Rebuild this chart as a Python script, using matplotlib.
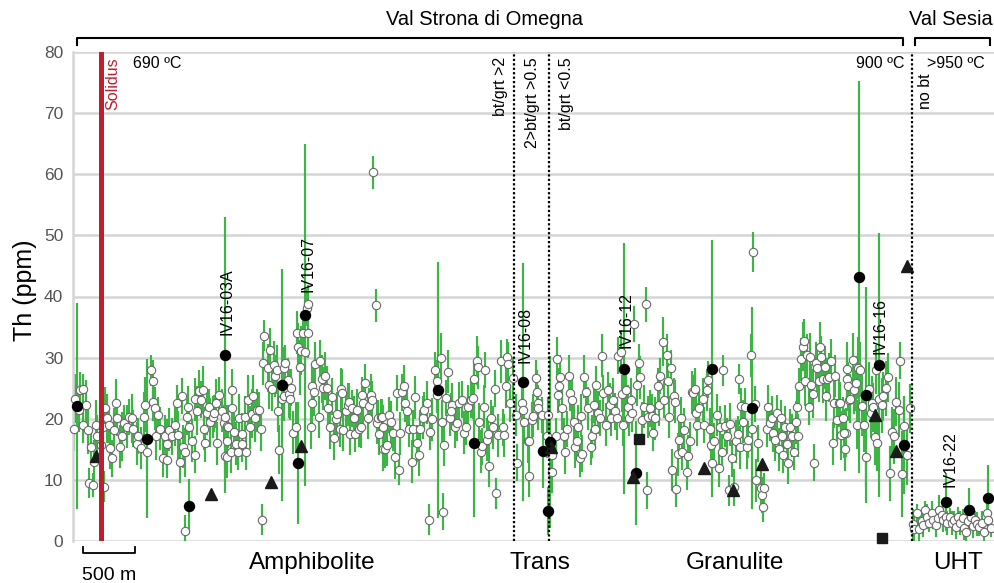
import matplotlib
matplotlib.use("Agg")
import matplotlib.pyplot as plt
import numpy as np

plt.rcParams['font.family'] = ['Liberation Sans', 'DejaVu Sans']

# ---------------- data (position along section in arbitrary units; 52 units = 500 m) ----------------
amph_x = [74, 75, 80, 83, 86, 79, 83, 88, 91, 89, 93, 94, 96, 97, 101, 103, 104, 105, 107, 109,
          110, 112, 114, 116, 117, 120, 122, 124, 127, 129, 132, 133, 137, 138, 141, 144, 145, 147, 151, 153,
          153, 155, 158, 156, 160, 163, 165, 167, 167, 169, 172, 175, 177, 178, 180, 182, 183, 185, 187, 188,
          189, 185, 192, 195, 195, 197, 199, 201, 203, 204, 205, 207, 209, 210, 213, 214, 216, 217, 219, 222,
          224, 225, 227, 225, 227,
          232, 232, 228, 227, 231, 234, 236, 238, 239, 242, 242, 245, 246, 248, 250, 252, 253, 255, 257, 259,
          261, 262, 264, 263, 268, 270, 269, 272, 274, 275, 277, 278, 279, 282, 284, 284, 285, 288, 289, 290,
          291, 293, 296, 297, 298, 300, 301, 303, 305, 307, 308, 308, 311, 312, 312, 314, 315, 320, 319, 322,
          323, 325, 327, 328, 330, 332, 334, 336, 337, 340, 341, 342, 343, 346, 348, 349, 350, 352, 354, 355,
          357, 359, 361, 362, 363, 365, 368, 369, 371, 372, 376, 373, 377, 378, 379, 381, 383,
          382, 383, 385, 387, 389, 391, 393, 395, 397, 399, 400, 402, 404, 405, 407, 409, 412, 413, 415, 417,
          419, 420, 423, 424, 427, 429, 430, 432, 435, 437, 437, 441, 442, 443, 444, 446, 448, 450, 452, 451,
          455, 457, 459, 462, 464, 466, 468, 471, 473, 474, 477, 478, 479, 481, 482, 484, 485, 487, 488, 489,
          491, 493, 495, 496, 498, 501, 503, 504, 506, 507, 508, 510, 513]
amph_th = [18.3, 23.3, 24.7, 24.8, 22.3, 21.4, 19.0, 18.2, 15.4, 9.5, 9.2, 13.0, 19.0, 17.1, 15.7, 18.7, 8.9, 21.7, 20.1, 19.0,
           15.2, 13.5, 18.2, 22.5, 20.2, 15.4, 17.1, 19.3, 18.7, 20.3, 20.1, 18.4, 15.9, 17.2, 15.2, 20.3, 22.3, 14.6, 27.9, 26.1,
           22.7, 21.7, 20.6, 17.2, 18.4, 13.5, 17.1, 13.3, 15.9, 18.2, 17.1, 19.0, 22.5, 17.3, 13.0, 23.7, 15.4, 14.5, 20.3, 21.9,
           18.7, 1.7, 16.4, 14.1, 23.2, 21.3, 24.5, 23.1, 24.7, 18.4, 16.0, 20.9, 21.9, 19.4, 20.3, 20.9, 22.5, 16.0, 23.9, 21.3,
           19.3, 20.3, 18.8, 13.9, 13.8,
           24.7, 21.7, 18.7, 16.3, 14.6, 17.9, 15.9, 14.6, 20.1, 17.5, 15.9, 20.3, 14.6, 23.1, 18.6, 20.8, 23.7, 20.2, 21.4, 21.4,
           18.3, 3.5, 33.6, 29.1, 28.3, 31.3, 25.6, 24.8, 28.8, 27.0, 28.0, 21.3, 14.9, 23.2, 23.7, 28.3, 29.1, 26.4, 24.1, 23.3,
           25.1, 17.7, 18.7, 34.1, 31.7, 28.4, 31.1, 34.1, 31.0, 38.2, 38.8, 34.0, 18.6, 22.6, 25.4, 24.4, 29.0, 29.4, 20.3, 26.5,
           25.0, 27.0, 25.1, 21.7, 18.6, 23.6, 16.8, 19.9, 20.8, 18.4, 24.8, 24.2, 18.2, 21.2, 22.3, 22.8, 17.5, 21.7, 20.2, 17.5,
           21.4, 18.3, 18.7, 23.9, 22.6, 25.9, 20.2, 22.1, 23.9, 23.1, 38.6, 60.3, 19.3, 20.1, 17.5, 20.3, 15.0,
           20.3, 18.7, 15.0, 15.7, 20.6, 19.4, 17.7, 13.7, 24.2, 11.6, 17.6, 24.3, 25.3, 22.5, 21.2, 18.4, 13.0, 18.4, 23.5, 16.0,
           14.1, 18.4, 20.2, 21.4, 22.6, 3.5, 17.9, 19.9, 28.0, 26.1, 23.9, 30.0, 19.5, 4.8, 15.7, 23.4, 27.7, 20.1, 22.3, 21.2,
           18.7, 19.3, 22.5, 23.1, 17.7, 18.7, 22.0, 23.1, 23.4, 26.5, 29.5, 28.4, 19.5, 14.6, 15.5, 22.0, 28.0, 16.6, 17.5, 12.3,
           20.1, 18.6, 24.9, 7.8, 17.3, 29.4, 18.6, 17.3, 25.3, 30.1, 29.0, 22.5, 26.6]
amph_err = [3.5, 4, 3, 2.5, 4, 3.5, 3, 4, 3, 2.5, 2, 3.5, 4, 3.5, 4, 3, 2.5, 3.5, 4, 3,
            3.5, 3, 3.5, 4, 3, 3.5, 4, 3, 3.5, 3, 4, 3, 3.5, 3, 3.5, 4, 4.5, 3, 2.5, 3.5,
            3, 3.5, 3, 4, 3.5, 3, 3.5, 3, 4, 3.5, 3, 3.5, 3, 4, 3.5, 3, 3.5, 4, 3, 3.5,
            3, 2.5, 3.5, 3, 3.5, 4, 3.5, 3, 4, 3.5, 3, 3.5, 3, 4, 3.5, 3, 4, 3.5, 3, 3.5,
            3, 4, 3.5, 3, 3.5,
            3.5, 3, 3.5, 3, 3.5, 3, 3.5, 3, 4, 3.5, 3, 3.5, 3, 4, 3.5, 4, 3.5, 4, 3.5, 3,
            3.5, 2.5, 2.5, 3.5, 4, 3.5, 4, 3.5, 4, 3.5, 4, 3.5, 4, 3.5, 4, 3.5, 3, 3.5, 4, 3.5,
            3, 3.5, 4, 3.5, 4, 4.5, 4, 3.5, 4, 3, 3, 4, 3.5, 4, 3.5, 4, 3.5, 3.5, 3.5, 4,
            3.5, 4, 3.5, 3, 3.5, 3, 3.5, 3, 3.5, 3, 3.5, 4, 3.5, 3, 3.5, 3, 3.5, 3, 3.5, 3,
            3.5, 3, 3.5, 3, 3.5, 3, 3.5, 3, 3.5, 3, 2.7, 2.7, 3.5, 3, 3.5, 3, 3.5,
            3, 3.5, 3, 3.5, 3, 3.5, 3, 3.5, 3, 2.5, 3.5, 3, 3.5, 3, 3.5, 3, 3.5, 3, 3.5, 3,
            3.5, 3, 3.5, 3, 3.5, 2.5, 3, 3.5, 3, 3.5, 3, 4, 3.5, 3, 3.5, 3, 3.5, 3, 3.5, 3,
            3.5, 3, 3.5, 3, 3.5, 3, 3.5, 3, 3.5, 3, 4, 3.5, 3, 3.5, 3, 3.5, 3, 3.5, 3, 3.5,
            3, 3.5, 3, 2.5, 3.5, 3.5, 3, 3.5, 3.5, 3, 3.5, 3, 3.5]

trans_x = [516, 517, 522, 523, 524, 528, 529, 529, 532, 533, 536, 537, 538, 538, 542, 547, 548]
trans_th = [20.6, 12.8, 22.6, 21.4, 19.4, 16.3, 16.4, 10.7, 19.8, 20.5, 26.6, 24.4, 22.5, 21.7, 20.6, 17.1, 20.6]
trans_err = [3.5, 3, 4, 3.5, 3, 3.5, 3, 3.5, 3, 3.5, 3, 3.5, 3, 3.5, 3, 3.5, 3]

gran_x = [552, 552, 556, 557, 559, 560, 558, 562, 564, 565, 567, 569, 570, 572, 574, 575, 577, 578, 580, 581,
          582, 584, 586, 588, 591, 592, 594, 595, 596, 598, 600, 602, 603, 606, 608, 610, 611, 613, 615, 617,
          618, 621, 622, 623, 626, 628, 629, 631, 632, 634, 637, 639, 640, 642, 644, 646, 647, 648, 650, 652,
          653, 655, 658, 659, 660, 663, 664, 667, 668, 669, 671, 672, 674, 675, 676, 678, 679, 681, 682, 684,
          687, 688, 690, 692, 693, 695, 696, 697, 699, 703, 704, 707, 708, 710, 711, 712, 714, 717, 719, 720,
          722, 723, 725, 727, 729, 730, 732, 734, 736, 738, 739, 740, 741, 743, 745, 747, 748, 751, 752, 753,
          755, 756, 758, 761, 762, 763, 764, 767, 768, 770, 772, 773, 775, 777, 779, 781, 782, 783, 785, 787,
          788, 790, 792, 794, 796, 797, 798, 799, 801, 803, 804, 805, 807, 809, 810, 811, 813, 814, 816, 817,
          819, 820, 821, 823, 825, 826, 827, 829, 831, 833, 834, 835, 837, 839, 840, 841, 843, 845, 846, 847,
          848, 849, 844, 847, 850, 853, 854, 856, 857, 858, 860, 862, 864, 866, 869, 871, 872, 873, 875, 876,
          877, 879, 882, 883, 886, 888, 890, 892, 894, 896, 899, 900, 902, 904, 907, 910]
gran_th = [14.1, 11.3, 17.1, 29.8, 25.3, 26.9, 23.9, 21.7, 17.1, 14.5, 18.3, 27.0, 24.2, 23.1, 19.4, 15.4, 16.3, 18.7, 13.5, 20.5,
           14.3, 26.9, 24.4, 21.7, 15.4, 17.1, 22.3, 18.4, 25.6, 21.0, 20.1, 30.3, 24.2, 19.0, 24.7, 22.3, 20.1, 23.1, 21.2, 20.1,
           30.3, 31.0, 24.1, 19.0, 24.7, 22.0, 20.1, 23.1, 20.9, 35.5, 25.6, 29.2, 26.8, 19.8, 22.0, 38.7, 8.3, 20.3, 21.7, 20.5,
           17.7, 20.1, 25.3, 22.3, 27.0, 32.6, 23.1, 30.4, 26.2, 20.3, 28.3, 11.6, 23.7, 22.8, 8.5, 14.2, 16.6, 20.1, 14.6, 18.2,
           11.3, 13.9, 16.4, 24.3, 24.2, 24.8, 21.0, 19.0, 21.8, 23.2, 19.0, 24.7, 26.4, 18.3, 15.7, 12.8, 16.3, 20.6, 11.9, 18.6,
           14.5, 27.9, 18.8, 17.2, 8.3, 19.1, 13.5, 8.8, 16.3, 17.5, 26.5, 15.3, 22.1, 19.5, 22.0, 15.3, 16.6, 30.4, 18.4, 47.3,
           22.4, 9.9, 16.0, 8.6, 7.5, 5.6, 8.6, 18.4, 22.0, 19.3, 20.2, 17.6, 16.6, 20.9, 15.0, 20.1, 17.2, 14.1, 18.6, 15.9,
           12.8, 18.6, 17.2, 14.6, 19.4, 22.0, 17.2, 25.3, 29.7, 31.8, 32.8, 26.1, 30.4, 22.0, 30.1, 25.5, 24.1, 12.8, 29.1, 28.3,
           26.2, 31.8, 30.1, 26.5, 28.4, 23.7, 26.5, 26.8, 29.5, 16.0, 22.5, 27.0, 19.8, 22.6, 22.5, 17.3, 20.1, 15.0, 17.7, 26.5,
           25.3, 23.1, 17.6, 28.1, 23.3, 29.6, 24.7, 25.8, 19.0, 28.3, 28.0, 22.1, 19.0, 13.8, 24.8, 20.9, 22.5, 21.9, 17.0, 28.0,
           16.0, 23.3, 22.2, 23.7, 25.0, 26.8, 11.1, 17.9, 17.1, 22.8, 21.5, 29.5, 11.0, 18.8, 14.1, 21.7]
gran_err = [3, 3.5, 3, 3.5, 3, 3.5, 3, 3.5, 3, 3.5, 3, 3.5, 3, 3.5, 3, 3.5, 3, 3.5, 3, 3.5,
            3, 3.5, 3, 3.5, 3, 3.5, 3, 3.5, 3, 3.5, 3, 3.5, 3, 3.5, 3, 3.5, 3, 3.5, 3, 3.5,
            3, 3.5, 3, 3.5, 3, 3.5, 3, 3.5, 3, 3, 3.5, 3, 3.5, 3, 3.5, 2.8, 3, 3.5, 3, 3.5,
            3, 3.5, 3, 3.5, 3, 4, 3, 3.5, 3, 3.5, 3, 3.5, 3, 3.5, 3, 3.5, 3, 3.5, 3, 3.5,
            3, 3.5, 3, 3.5, 3, 3.5, 3, 3.5, 3, 3.5, 3, 3.5, 3, 3.5, 3, 3.5, 3, 3.5, 3, 3.5,
            3, 2.5, 3.5, 3, 2.5, 3.5, 3, 3, 3.5, 3, 2.5, 3.5, 3, 3.5, 3, 3.5, 3, 3.5, 3, 3.3,
            3, 3.5, 3, 3, 3, 2.5, 2.5, 3, 3.5, 3, 3.5, 3, 3.5, 3, 3.5, 3, 3.5, 3, 3.5, 3,
            3.5, 3, 3.5, 3, 3.5, 3, 3.5, 3, 3.5, 4, 3.5, 4, 3.5, 3, 4, 3.5, 4, 3, 3.5, 4,
            3.5, 4, 3.5, 4, 3.5, 4, 3.5, 4, 3.5, 3.5, 4, 3.5, 3.5, 4, 3.5, 4, 3.5, 3.5, 4, 3.5,
            4, 3.5, 4, 4.5, 4, 4.5, 4, 4.5, 4, 5, 4.5, 5, 4.5, 5, 4.5, 4, 4.5, 4, 4.5, 4,
            4.5, 4, 4.5, 4, 4.5, 4, 4.5, 4, 4.5, 4, 4.5, 3, 7, 5, 5, 4]

uht_x = [913, 914, 917, 919, 922, 923, 925, 927, 929, 932, 933, 936, 938, 939, 942, 943, 946, 947, 950, 952,
         954, 956, 958, 960, 963, 964, 966, 968, 971, 973, 975, 977, 979, 982, 984, 987, 988, 991]
uht_th = [2.8, 1.9, 4.5, 1.9, 3.3, 2.6, 5.1, 4.0, 2.9, 4.5, 3.5, 2.6, 3.7, 5.1, 4.3, 3.4, 4.0, 2.9, 3.9, 2.9,
          3.4, 2.3, 4.0, 2.9, 3.7, 2.2, 1.5, 3.2, 4.0, 2.5, 3.4, 2.8, 2.3, 2.9, 1.5, 4.6, 3.4, 2.1]
uht_err = [2.5, 2, 1.5, 2, 1.5, 2, 1.5, 2, 1.5, 2, 1.5, 2, 1.5, 2.5, 1.5, 2, 1.5, 2, 1.5, 2,
           1.5, 2, 1.5, 2, 1.5, 2, 1.5, 2, 1.5, 2, 1.5, 2, 1.5, 2, 1.5, 2, 2.5, 1.5]

# dated samples (filled symbols)
samp_x = [77, 147, 189, 225, 282, 298, 305, 438, 474, 523, 543, 550, 548, 624, 636, 712, 752, 859, 866, 879, 904, 946, 969, 988]
samp_th = [22.1, 16.7, 5.7, 30.4, 25.5, 12.8, 37.0, 24.7, 16.0, 26.0, 14.7, 16.2, 4.9, 28.2, 11.1, 28.2, 21.8, 43.2, 23.9, 28.8, 15.7, 6.4, 5.1, 7.0]
samp_err = [16.8, 13, 4.5, 22.6, 19, 10, 28, 21, 12, 19.5, 6, 14, 4, 20.5, 8.5, 21, 16.5, 32, 17.7, 21.6, 8, 4.8, 3.6, 5.4]

tri_x = [96, 211, 271, 301, 551, 633, 704, 733, 762, 875, 896, 907]
tri_th = [13.9, 7.7, 9.7, 15.5, 15.4, 10.5, 12.0, 8.4, 12.6, 20.6, 14.7, 45.0]

sq_x = [639, 882]
sq_th = [16.7, 0.5]

label_names = ['IV16-03A', 'IV16-07', 'IV16-08', 'IV16-12', 'IV16-16', 'IV16-22']
label_x = [227, 308, 525, 626, 880, 950]
label_y = [33.7, 40.8, 29.1, 31.6, 30.6, 8.8]

zone_names = ['Amphibolite', 'Trans', 'Granulite', 'UHT']
zone_centers = [312, 540, 735, 958]

boundary_x = [514, 549, 912]
solidus_x = 101

# ---------------- plotting ----------------
GREEN = '#3cb544'
fig = plt.figure(figsize=(9.94, 5.83), dpi=100)
ax = fig.add_axes([73 / 994, 42 / 583, 921 / 994, 489 / 583])
ax.set_xlim(73, 994)
ax.set_ylim(0, 80)
ax.set_yticks(range(0, 81, 10))
ax.set_xticks([])
ax.yaxis.grid(True, color='#d5d5d5', lw=1.8)
ax.set_axisbelow(True)
for s in ['top', 'right', 'bottom']:
    ax.spines[s].set_visible(False)
ax.spines['left'].set_color('#d5d5d5')
ax.spines['left'].set_linewidth(1.8)
ax.tick_params(axis='y', length=0, pad=7, labelsize=12.5, labelcolor='#555555')

all_x = amph_x + trans_x + gran_x + uht_x
all_th = amph_th + trans_th + gran_th + uht_th
all_err = amph_err + trans_err + gran_err + uht_err

ax.errorbar(all_x, all_th, yerr=all_err, fmt='none', ecolor=GREEN, elinewidth=1.55, capsize=0, zorder=2)
ax.errorbar(samp_x, samp_th, yerr=samp_err, fmt='none', ecolor=GREEN, elinewidth=1.55, capsize=0, zorder=2)

ax.plot(all_x, all_th, 'o', ms=6.0, mfc='white', mec='#6a6a6a', mew=0.8, zorder=3, clip_on=False)
ax.plot(samp_x, samp_th, 'o', ms=7.2, mfc='black', mec='black', zorder=4, clip_on=False)
ax.plot(tri_x, tri_th, '^', ms=8, mfc='#1a1a1a', mec='#1a1a1a', zorder=4, clip_on=False)
ax.plot(sq_x, sq_th, 's', ms=7.5, mfc='#1a1a1a', mec='#1a1a1a', zorder=4, clip_on=False)

# solidus
ax.axvline(solidus_x, color='#be1e2d', lw=3.6, zorder=5)
ax.text(solidus_x + 12, 79.2, 'Solidus', rotation=90, color='#be1e2d', fontsize=11.5,
        ha='center', va='top')
ax.text(133, 78.1, '690 ºC', fontsize=11.5, ha='left', va='center')

# boundaries
for bx in boundary_x:
    ax.axvline(bx, color='black', lw=1.6, ls=(0, (1, 1)), zorder=5)
ax.text(500, 79.2, 'bt/grt >2', rotation=90, fontsize=11.5, ha='center', va='top')
ax.text(533, 79.2, '2>bt/grt >0.5', rotation=90, fontsize=11.5, ha='center', va='top')
ax.text(566, 79.2, 'bt/grt <0.5', rotation=90, fontsize=11.5, ha='center', va='top')
ax.text(905, 78.1, '900 ºC', fontsize=11.5, ha='right', va='center')
ax.text(926, 76.5, 'no bt', rotation=90, fontsize=11.5, ha='center', va='top')
ax.text(927, 78.1, '>950 ºC', fontsize=11.5, ha='left', va='center')

# sample labels
for nm, lx, ly in zip(label_names, label_x, label_y):
    ax.text(lx, ly, nm, rotation=90, fontsize=11.5, ha='center', va='bottom', zorder=6)

# zone labels
for nm, zx in zip(zone_names, zone_centers):
    ax.text(zx, -3.6, nm, fontsize=17.5, ha='center', va='center', clip_on=False)

# scale bar
ax.plot([83, 83, 135, 135], [-1.0, -2.0, -2.0, -1.0], color='black', lw=1.3, clip_on=False)
ax.text(109, -5.6, '500 m', fontsize=14, ha='center', va='center', clip_on=False)

# top brackets
ax.plot([77, 77, 903, 903], [81.2, 82.3, 82.3, 81.2], color='black', lw=1.5, clip_on=False)
ax.text(484, 85.3, 'Val Strona di Omegna', fontsize=14.5, ha='center', va='center', clip_on=False)
ax.plot([915, 915, 990, 990], [81.2, 82.3, 82.3, 81.2], color='black', lw=1.5, clip_on=False)
ax.text(951, 85.3, 'Val Sesia', fontsize=14.5, ha='center', va='center', clip_on=False)

fig.text(25 / 994, 1 - 290 / 583, 'Th (ppm)', rotation=90, fontsize=18, ha='center', va='center')

fig.savefig('out.png', dpi=100)
